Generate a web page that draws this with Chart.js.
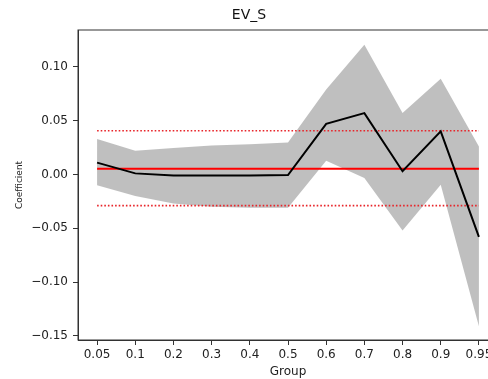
<!DOCTYPE html>
<html>
<head>
<meta charset="utf-8">
<script src="https://cdn.jsdelivr.net/npm/chart.js@4/dist/chart.umd.min.js"></script>
<style>
  html, body { margin: 0; padding: 0; background: #fff; overflow: hidden; }
</style>
</head>
<body>
<canvas id="grafico" width="510" height="379"></canvas>
<script>
// datos
const groups = ['0.05', '0.1', '0.2', '0.3', '0.4', '0.5', '0.6', '0.7', '0.8', '0.9', '0.95'];
const coef  = [0.011, 0.001, -0.001, -0.001, -0.001, -0.0005, 0.047, 0.057, 0.003, 0.040, -0.058];
const upper = [0.033, 0.022, 0.0245, 0.027, 0.028, 0.0297, 0.079, 0.1205, 0.057, 0.089, 0.026];
const lower = [-0.010, -0.020, -0.027, -0.030, -0.031, -0.031, 0.0127, -0.0034, -0.052, -0.0096, -0.141];
const meanLine = 0.0053;
const bandHigh = 0.0406;
const bandLow = -0.029;
const yTicks = [-0.15, -0.10, -0.05, 0.00, 0.05, 0.10];

Chart.defaults.font.family = 'DejaVu Sans';
Chart.defaults.color = '#222';

// marco completo alrededor del area del grafico
const frame = {
  id: 'frame',
  afterDraw(chart) {
    const {ctx, chartArea: a} = chart;
    ctx.save();
    ctx.strokeStyle = '#333';
    ctx.lineWidth = 1;
    ctx.strokeRect(a.left, a.top, a.right - a.left, a.bottom - a.top);
    ctx.restore();
  }
};

const config = {
  type: 'line',
  data: {
    labels: groups,
    datasets: [
      {
        label: 'coef',
        data: coef,
        borderColor: '#000',
        borderWidth: 2,
        order: 0
      },
      {
        label: 'mean',
        data: groups.map(() => meanLine),
        borderColor: '#ff0000',
        borderWidth: 1.8,
        order: 1
      },
      {
        label: 'high',
        data: groups.map(() => bandHigh),
        borderColor: '#e8252a',
        borderWidth: 1.6,
        borderDash: [1.6, 2],
        order: 1
      },
      {
        label: 'low',
        data: groups.map(() => bandLow),
        borderColor: '#e8252a',
        borderWidth: 1.6,
        borderDash: [1.6, 2],
        order: 1
      },
      {
        label: 'upper',
        data: upper,
        borderWidth: 0,
        borderColor: 'rgba(0,0,0,0)',
        backgroundColor: 'rgba(128,128,128,0.5)',
        fill: '+1',
        order: 2
      },
      {
        label: 'lower',
        data: lower,
        borderWidth: 0,
        borderColor: 'rgba(0,0,0,0)',
        fill: false,
        order: 2
      }
    ]
  },
  options: {
    responsive: false,
    animation: false,
    layout: { padding: { left: 0, right: 12, top: 0, bottom: 0 } },
    elements: {
      point: { radius: 0, hoverRadius: 0 },
      line: { tension: 0 }
    },
    plugins: {
      legend: { display: false },
      tooltip: { enabled: false },
      title: {
        display: true,
        text: 'EV_S',
        color: '#111',
        font: { size: 14, weight: 'normal', lineHeight: 1.2 },
        padding: { top: 7, bottom: 6.2 }
      }
    },
    scales: {
      x: {
        type: 'category',
        offset: true,
        grid: {
          display: true,
          drawOnChartArea: false,
          drawTicks: true,
          tickLength: 5,
          tickColor: '#333',
          offset: false
        },
        border: { display: true, color: '#333', width: 1 },
        ticks: { font: { size: 12 }, padding: 3, maxRotation: 0, autoSkip: false },
        title: {
          display: true,
          text: 'Group',
          font: { size: 12, lineHeight: 1.2 },
          padding: { top: 0, bottom: 0 }
        },
        afterFit(scale) { scale.height = 39; }
      },
      y: {
        type: 'linear',
        min: -0.1538,
        max: 0.1342,
        grid: {
          display: true,
          drawOnChartArea: false,
          drawTicks: true,
          tickLength: 5,
          tickColor: '#333'
        },
        border: { display: true, color: '#333', width: 1 },
        ticks: {
          font: { size: 12 },
          padding: 5,
          callback: v => v.toFixed(2).replace('-', '\u2212')
        },
        afterBuildTicks(scale) {
          scale.ticks = yTicks.map(v => ({ value: v }));
        },
        title: {
          display: true,
          text: 'Coefficient',
          font: { size: 9, lineHeight: 1.2 },
          padding: { top: 14.5, bottom: 0 }
        },
        afterFit(scale) { scale.width = 78; }
      }
    }
  },
  plugins: [frame]
};

new Chart(document.querySelector('#grafico'), config);
</script>
</body>
</html>
